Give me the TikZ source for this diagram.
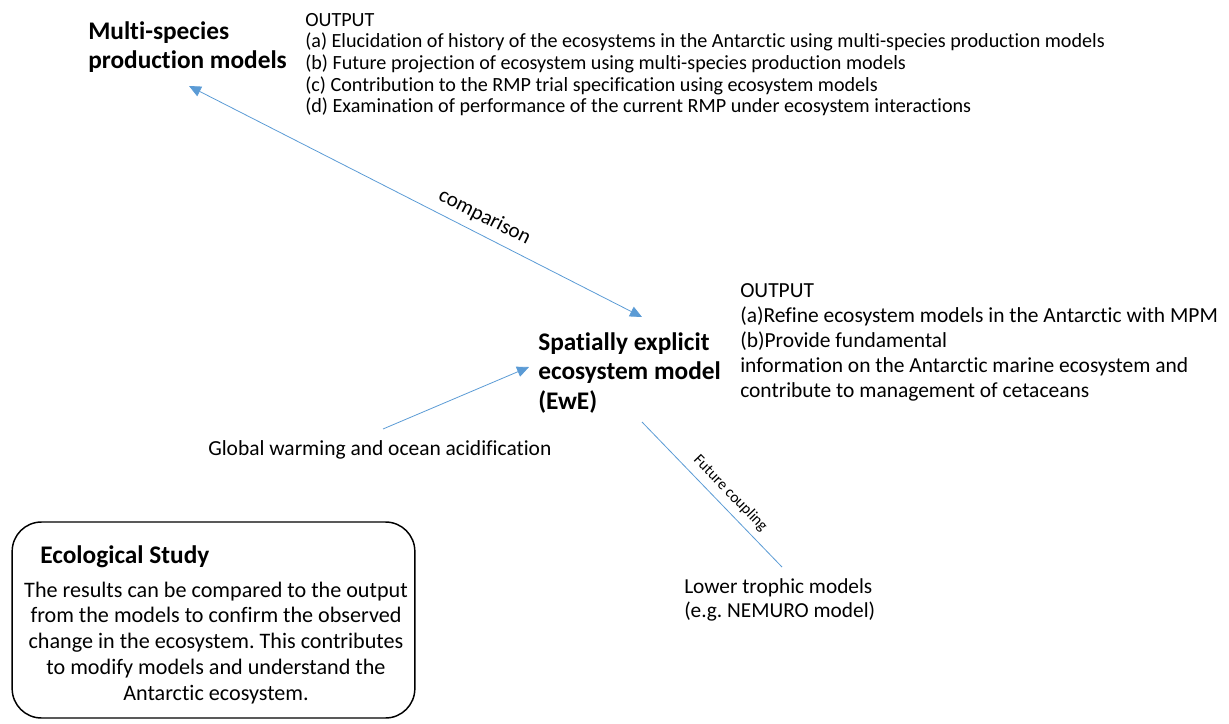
\documentclass[tikz,border=0pt]{standalone}
\usepackage{fontspec}
\setmainfont{Carlito}[Ligatures=NoCommon]
\usetikzlibrary{arrows.meta,positioning}
\definecolor{linkblue}{RGB}{91,155,213}
\frenchspacing
\tikzset{
  head/.style  ={font=\fontsize{19}{22}\selectfont\bfseries,align=left,inner sep=0pt,anchor=base west},
  outtxt/.style={font=\fontsize{15.1}{16.3}\selectfont,align=left,inner sep=0pt,anchor=base west},
  txt/.style   ={font=\fontsize{16.1}{18.75}\selectfont,align=left,inner sep=0pt,anchor=base west},
  lbl/.style   ={font=\fontsize{15.8}{17}\selectfont,inner sep=2pt},
  small/.style ={font=\fontsize{11.7}{13}\selectfont,inner sep=2pt},
  link/.style  ={draw=linkblue,line width=0.6pt},
  ar/.style    ={link,-{Triangle[length=9pt,width=8pt]}},
  biar/.style  ={link,{Triangle[length=9pt,width=8pt]}-{Triangle[length=9pt,width=8pt]}},
  ecobox/.style={draw,line width=1.1pt,rounded corners=22pt,inner sep=0pt,
                 minimum width=302pt,minimum height=147pt},
}
\begin{document}
\begin{tikzpicture}[x=0.75pt,y=-0.75pt]
  \useasboundingbox (0,0) rectangle (1229,724);
  % models (nodes placed at the baseline of their last line)
  \node[head] (mpm) at (88,69) {Multi-species\\production models};
  \node[head] (ewe) at (538,409) {Spatially explicit\\ecosystem model\\(EwE)};
  \node[outtxt] (mpmout) at (305,113) {OUTPUT\\
    (a) Elucidation of history of the ecosystems in the Antarctic using multi-species production models\\
    (b) Future projection of ecosystem using multi-species production models\\
    (c) Contribution to the RMP trial specification using ecosystem models\\
    (d) Examination of performance of the current RMP under ecosystem interactions};
  \node[txt] (eweout) at (740,397) {OUTPUT\\
    (a)Refine ecosystem models in the Antarctic with MPM\\
    (b)Provide fundamental\\
    information on the Antarctic marine ecosystem and\\
    contribute to management of cetaceans};
  \node[txt] (gw) at (208,455) {Global warming and ocean acidification};
  \node[txt,font=\fontsize{16}{18}\selectfont] (ltm) at (684,617) {Lower trophic models\\(e.g. NEMURO model)};
  % ecological study
  \node[ecobox] (eco) at (213.5,620) {};
  \node[head] (ecotitle) at (40,563) {Ecological Study};
  \node[txt,font=\fontsize{16.6}{19.3}\selectfont,align=center,anchor=base] (ecotext) at (216,700) {The results can be compared to the output\\
    from the models to confirm the observed\\
    change in the ecosystem. This contributes\\
    to modify models and understand the\\
    Antarctic ecosystem.};
  % connectors
  \coordinate (cmpA) at (189,86);
  \coordinate (cmpB) at (642,317);
  \coordinate (gwA) at (383,429);
  \coordinate (gwB) at (529,367);
  \coordinate (cplA) at (642,422);
  \coordinate (cplB) at (782,567);
  \draw[biar] (cmpA) -- node[lbl,pos=0.635,sloped,above=4pt]{comparison} (cmpB);
  \draw[ar] (gwA) -- (gwB);
  \draw[link] (cplA) -- node[small,pos=0.56,sloped,above=3pt]{Future coupling} (cplB);
\end{tikzpicture}
\end{document}
